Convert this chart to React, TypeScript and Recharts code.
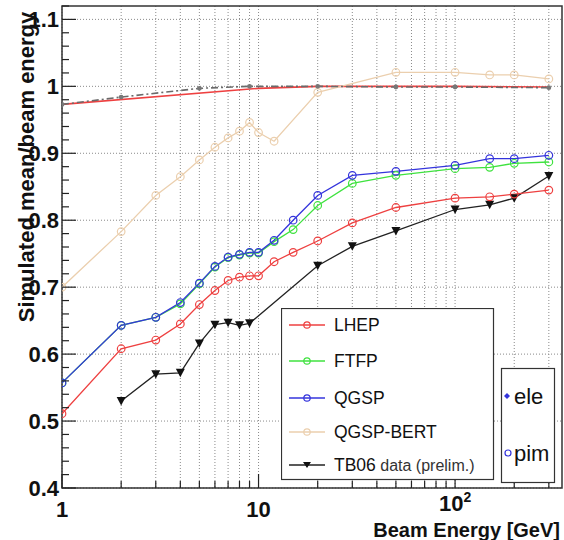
import { LineChart, Line, XAxis, YAxis, CartesianGrid, Legend, ReferenceArea } from 'recharts';

// beam energies (GeV) and mean/beam energy
const energies = [1, 2, 3, 4, 5, 6, 7, 8, 9, 10, 12, 15, 20, 30, 50, 100, 150, 200, 300];
const lhep = [0.511, 0.608, 0.621, 0.645, 0.674, 0.695, 0.71, 0.715, 0.717, 0.717, 0.738, 0.752, 0.769, 0.796, 0.819, 0.833, 0.835, 0.839, 0.845];
const ftfp = [0.557, 0.643, 0.655, 0.675, 0.705, 0.73, 0.744, 0.748, 0.751, 0.751, 0.768, 0.786, 0.822, 0.855, 0.867, 0.877, 0.879, 0.885, 0.887];
const qgsp = [0.557, 0.643, 0.655, 0.677, 0.706, 0.731, 0.745, 0.749, 0.752, 0.752, 0.77, 0.8, 0.837, 0.867, 0.873, 0.882, 0.892, 0.892, 0.897];

const bertEnergies = [1, 2, 3, 4, 5, 6, 7, 8, 9, 10, 12, 20, 50, 100, 150, 200, 300];
const qgspBert = [0.7, 0.783, 0.837, 0.865, 0.89, 0.909, 0.923, 0.933, 0.946, 0.931, 0.918, 0.991, 1.021, 1.021, 1.017, 1.017, 1.011];

const tbEnergies = [2, 3, 4, 5, 6, 7, 8, 9, 20, 30, 50, 100, 150, 200, 300];
const tb06 = [0.53, 0.57, 0.572, 0.616, 0.644, 0.647, 0.643, 0.646, 0.732, 0.761, 0.784, 0.816, 0.823, 0.833, 0.866];

const eleEnergies = [1, 2, 5, 9, 20, 50, 100, 300];
const eleMean = [0.973, 0.984, 0.997, 1.0, 1.0, 0.999, 0.999, 0.998];
const eleLhepEnergies = [1, 10, 20, 50, 100, 300];
const eleLhep = [0.973, 0.997, 1.0, 1.0, 1.0, 0.999];

const xTicks = [1, 2, 3, 4, 5, 6, 7, 8, 9, 10, 20, 30, 40, 50, 60, 70, 80, 90, 100, 200, 300];
const xMajor = [1, 10, 100];
const yTicks = [
  0.4, 0.42, 0.44, 0.46, 0.48, 0.5, 0.52, 0.54, 0.56, 0.58, 0.6, 0.62, 0.64, 0.66, 0.68, 0.7, 0.72, 0.74,
  0.76, 0.78, 0.8, 0.82, 0.84, 0.86, 0.88, 0.9, 0.92, 0.94, 0.96, 0.98, 1.0, 1.02, 1.04, 1.06, 1.08, 1.1, 1.12,
];
const yMajor = [0.4, 0.5, 0.6, 0.7, 0.8, 0.9, 1.0, 1.1];

const pts = (xs: number[], ys: number[]) => xs.map((e, i) => ({ e, v: ys[i] }));

const FONT = '"Liberation Sans", Arial, Helvetica, sans-serif';
const RED = '#ee4040';
const GREEN = '#3fe23f';
const BLUE = '#3434dc';
const TAN = '#ebcfae';
const BLACK = '#222';

const XTick = ({ x, y, payload }: any) => {
  const v = payload.value;
  const major = xMajor.includes(v);
  return (
    <g>
      <line x1={x} x2={x} y1={y} y2={y - (major ? 14 : 7)} stroke="#222" strokeWidth={1.2} />
      {major && (
        <text x={x} y={y + (v === 100 ? 23 : 29)} textAnchor="middle" fontFamily={FONT} fontWeight="bold" fontSize={22} fill="#111">
          {v === 100 ? (
            <>
              10<tspan dy={-9} fontSize={14}>2</tspan>
            </>
          ) : (
            String(v)
          )}
        </text>
      )}
    </g>
  );
};

const YTick = ({ x, y, payload }: any) => {
  const v = payload.value;
  const major = yMajor.some((m) => Math.abs(m - v) < 1e-6);
  return (
    <g>
      <line x1={x} x2={x + (major ? 14 : 7)} y1={y} y2={y} stroke="#222" strokeWidth={1.2} />
      {major && (
        <text x={x - 3} y={y + 8} textAnchor="end" fontFamily={FONT} fontWeight="bold" fontSize={22} fill="#111">
          {String(Math.round(v * 10) / 10)}
        </text>
      )}
    </g>
  );
};

const Tri = (props: any) => {
  const { cx, cy } = props;
  if (cx == null || cy == null) return null;
  return <path d={`M${cx - 4.5},${cy - 4} L${cx + 4.5},${cy - 4} L${cx},${cy + 4.5} Z`} fill="#111" />;
};

const legendRows = [
  { name: 'LHEP', color: RED },
  { name: 'FTFP', color: GREEN },
  { name: 'QGSP', color: BLUE },
  { name: 'QGSP-BERT', color: TAN },
];

const LegendBoxes = () => {
  const rowY = [17, 53, 90, 124, 157];
  return (
    <svg width={280} height={176} style={{ display: 'block' }}>
      <rect x={0.5} y={0.5} width={212} height={171} fill="#fff" stroke="#333" strokeWidth={1.2} />
      {legendRows.map((r, i) => (
        <g key={r.name}>
          <line x1={8} x2={44} y1={rowY[i]} y2={rowY[i]} stroke={r.color} strokeWidth={1.3} />
          <circle cx={26} cy={rowY[i]} r={3.2} fill="none" stroke={r.color} strokeWidth={1.2} />
          <text x={53} y={rowY[i] + 6} fontFamily={FONT} fontSize={17.5} fill="#111">
            {r.name}
          </text>
        </g>
      ))}
      <line x1={8} x2={44} y1={rowY[4]} y2={rowY[4]} stroke={BLACK} strokeWidth={1.3} />
      <path d={`M${22},${rowY[4] - 3} L${30},${rowY[4] - 3} L${26},${rowY[4] + 3} Z`} fill="#111" />
      <text x={53} y={rowY[4] + 6} fontFamily={FONT} fontSize={17.5} fill="#111">
        TB06<tspan fontSize={16} fill="#333"> data (prelim.)</tspan>
      </text>

      <rect x={220.5} y={60.5} width={53} height={114} fill="#fff" stroke="#333" strokeWidth={1.2} />
      <path d="M226,85 L229,88 L226,91 L223,88 Z" fill={BLUE} />
      <text x={233} y={96} fontFamily={FONT} fontSize={22} fill="#111">
        ele
      </text>
      <circle cx={227} cy={145} r={3} fill="none" stroke={BLUE} strokeWidth={1.2} />
      <text x={233} y={153} fontFamily={FONT} fontSize={22} fill="#111">
        pim
      </text>
    </svg>
  );
};

export default function App() {
  return (
    <div style={{ position: 'absolute', left: 0, top: 0, width: 564, height: 540, background: '#fff' }}>
      <LineChart width={564} height={540} margin={{ top: 6, right: 2, left: 0, bottom: 0 }}>
        <CartesianGrid
          stroke="#8a8a8a"
          strokeDasharray="1 2"
          verticalValues={xTicks}
          horizontalValues={yMajor}
        />
        <XAxis
          dataKey="e"
          type="number"
          scale="log"
          domain={[1, 350]}
          allowDataOverflow
          ticks={xTicks}
          interval={0}
          height={52}
          axisLine={false}
          tickLine={false}
          tickSize={0}
          tickMargin={0}
          tick={<XTick />}
          label={() => (
            <text x={560} y={537} textAnchor="end" fontFamily={FONT} fontWeight="bold" fontSize={20} fill="#111">
              Beam Energy [GeV]
            </text>
          )}
        />
        <YAxis
          dataKey="v"
          type="number"
          domain={[0.4, 1.12]}
          allowDataOverflow
          ticks={yTicks}
          interval={0}
          width={62}
          axisLine={false}
          tickLine={false}
          tickSize={0}
          tickMargin={0}
          tick={<YTick />}
          label={() => (
            <text
              x={34}
              y={167}
              transform="rotate(-90 34 167)"
              textAnchor="middle"
              fontFamily={FONT}
              fontWeight="bold"
              fontSize={22}
              fill="#111"
            >
              Simulated mean/beam energy
            </text>
          )}
        />
        <Line data={pts(eleLhepEnergies, eleLhep)} dataKey="v" stroke={RED} strokeWidth={1.6} dot={false} isAnimationActive={false} />
        <Line
          data={pts(bertEnergies, qgspBert)}
          dataKey="v"
          stroke={TAN}
          strokeWidth={1.3}
          dot={{ r: 3.8, fill: 'none', stroke: TAN, strokeWidth: 1.2 }}
          isAnimationActive={false}
        />
        <Line
          data={pts(eleEnergies, eleMean)}
          dataKey="v"
          stroke="#6a6a6a"
          strokeWidth={1.6}
          strokeDasharray="7 3 2 3"
          dot={{ r: 2.4, fill: '#777', stroke: 'none' }}
          isAnimationActive={false}
        />
        <Line
          data={pts(tbEnergies, tb06)}
          dataKey="v"
          stroke={BLACK}
          strokeWidth={1.3}
          dot={<Tri />}
          isAnimationActive={false}
        />
        <Line
          data={pts(energies, lhep)}
          dataKey="v"
          stroke={RED}
          strokeWidth={1.3}
          dot={{ r: 3.8, fill: 'none', stroke: RED, strokeWidth: 1.2 }}
          isAnimationActive={false}
        />
        <Line
          data={pts(energies, ftfp)}
          dataKey="v"
          stroke={GREEN}
          strokeWidth={1.3}
          dot={{ r: 3.8, fill: 'none', stroke: GREEN, strokeWidth: 1.2 }}
          isAnimationActive={false}
        />
        <Line
          data={pts(energies, qgsp)}
          dataKey="v"
          stroke={BLUE}
          strokeWidth={1.3}
          dot={{ r: 3.8, fill: 'none', stroke: BLUE, strokeWidth: 1.2 }}
          isAnimationActive={false}
        />
        <ReferenceArea x1={1} x2={350} y1={0.4} y2={1.12} fill="none" stroke="#333" strokeWidth={1.5} ifOverflow="extendDomain" />
        <Legend
          layout="horizontal"
          verticalAlign="middle"
          align="center"
          content={() => <LegendBoxes />}
          wrapperStyle={{ position: 'absolute', left: 281, top: 308, width: 280, height: 176 }}
        />
      </LineChart>
    </div>
  );
}
